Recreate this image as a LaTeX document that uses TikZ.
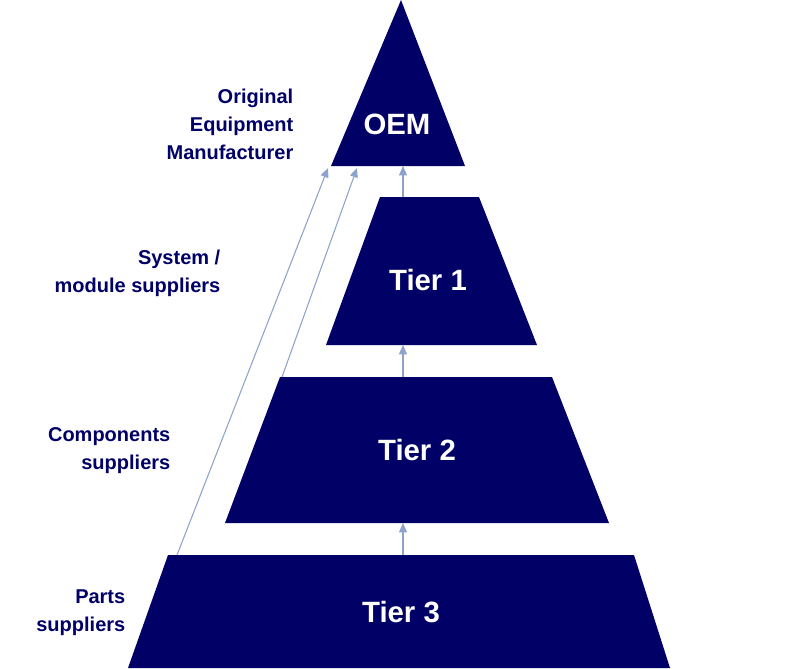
\documentclass[tikz,border=0pt]{standalone}
\usepackage{fontspec}
\setmainfont{Liberation Sans}
\usetikzlibrary{arrows.meta}
\definecolor{navy}{HTML}{000066}
\definecolor{arr}{HTML}{8EA3CC}
\begin{document}
\begin{tikzpicture}[x=0.75pt,y=-0.75pt,
  blk/.style={fill=navy,draw=none},
  tier/.style={text=white,font=\bfseries\fontsize{22}{26}\selectfont},
  lab/.style={text=navy,font=\bfseries\fontsize{15}{21}\selectfont,align=right,anchor=east},
  ar/.style={draw=arr,line width=0.8pt,-{Triangle[length=7pt,width=6pt]}}]
\useasboundingbox (0,0) rectangle (800,668);
\fill[blk] (401,0) -- (465,166) -- (331,166) -- cycle;
\fill[blk] (380,197) -- (479,197) -- (537,345) -- (326,345) -- cycle;
\fill[blk] (280,377) -- (552,377) -- (609,523) -- (225,523) -- cycle;
\fill[blk] (168,555) -- (634,555) -- (670,668) -- (128,668) -- cycle;
\node[tier] (oem) at (397,124) {OEM};
\node[tier] (t1) at (428,280) {Tier 1};
\node[tier] (t2) at (417,450) {Tier 2};
\node[tier] (t3) at (401,612) {Tier 3};
\coordinate (a3) at (403,555); \coordinate (b2) at (403,523);
\coordinate (a2) at (403,377); \coordinate (b1) at (403,345);
\coordinate (a1) at (403,197); \coordinate (b0) at (403,166);
\coordinate (d1s) at (177,555); \coordinate (d1e) at (328,168);
\coordinate (d2s) at (282,377); \coordinate (d2e) at (357,168);
\draw[ar] (a3) -- (b2);
\draw[ar] (a2) -- (b1);
\draw[ar] (a1) -- (b0);
\draw[ar] (d1s) -- (d1e);
\draw[ar] (d2s) -- (d2e);
\node[lab] (l0) at (298,124) {Original\\Equipment\\Manufacturer};
\node[lab] (l1) at (225,273) {System /\\module suppliers};
\node[lab] (l2) at (175,451) {Components\\suppliers};
\node[lab] (l3) at (130,613) {Parts\\suppliers};
\end{tikzpicture}
\end{document}
